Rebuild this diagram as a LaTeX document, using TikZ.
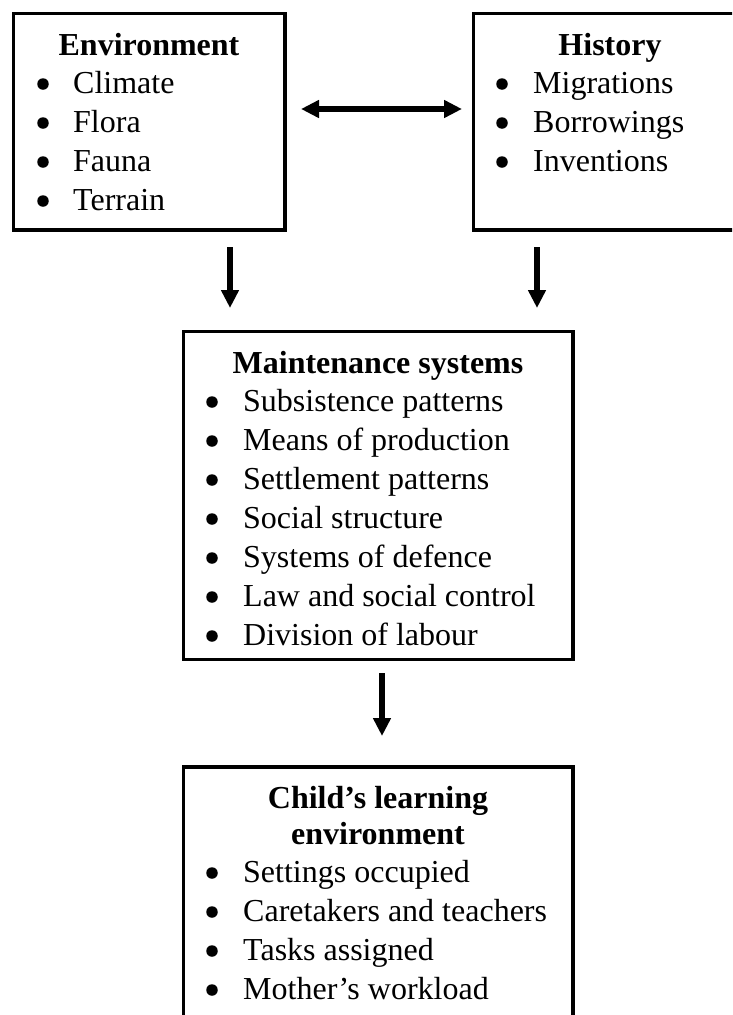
\documentclass[tikz,border=0pt]{standalone}
\usepackage{fontspec}
\setmainfont{Liberation Serif}
\usetikzlibrary{arrows.meta}
\begin{document}
\begin{tikzpicture}[x=1pt,y=-1pt,
  box/.style={draw, line width=3.3pt, rectangle, inner sep=0pt, outer sep=0pt, anchor=north west},
  item/.style={anchor=base west, inner sep=0pt, font=\fontsize{32}{39}\selectfont},
  head/.style={anchor=base, inner sep=0pt, font=\fontsize{32}{39}\selectfont\bfseries},
  dot/.style={fill, circle, inner sep=0pt, minimum size=11.5pt},
  arr/.style={line width=5.8pt, -{Triangle[length=18pt,width=17pt]}},
  darr/.style={line width=5.8pt, {Triangle[length=18pt,width=17pt]}-{Triangle[length=18pt,width=17pt]}}]
\clip (0,0) rectangle (732,1015);
% boxes
\node[box, minimum width=271.3pt, minimum height=216.3pt] (env) at (13.7,13.7) {};
\node[box, minimum width=274pt, minimum height=216.3pt] (his) at (473.7,13.7) {};
\node[box, minimum width=389.3pt, minimum height=327.8pt] (mnt) at (183.7,331.7) {};
\node[box, minimum width=389.3pt, minimum height=300pt] (chl) at (183.7,767) {};
% Environment
\node[head] (envh) at (149,55) {Environment};
\foreach \t [count=\i] in {Climate,Flora,Fauna,Terrain} {
  \node[item] (envi\i) at (73,54+39*\i) {\t};
  \node[dot] (envb\i) at (43,45+39*\i) {};
}
% History
\node[head] (hish) at (610,55) {History};
\foreach \t [count=\i] in {Migrations,Borrowings,Inventions} {
  \node[item] (hisi\i) at (533,54+39*\i) {\t};
  \node[dot] (hisb\i) at (502,45+39*\i) {};
}
% Maintenance systems
\node[head] (mnth) at (378,373) {Maintenance systems};
\foreach \t [count=\i] in {Subsistence patterns,Means of production,Settlement patterns,Social structure,Systems of defence,Law and social control,Division of labour} {
  \node[item] (mnti\i) at (243,372+39*\i) {\t};
  \node[dot] (mntb\i) at (212,363+39*\i) {};
}
% Child's learning environment
\node[head] (chlh1) at (378,808) {Child’s learning};
\node[head] (chlh2) at (378,844) {environment};
\foreach \t [count=\i] in {Settings occupied,Caretakers and teachers,Tasks assigned,Mother’s workload} {
  \node[item] (chli\i) at (243,843+39*\i) {\t};
  \node[dot] (chlb\i) at (212,834+39*\i) {};
}
% connectors
\coordinate (d1s) at (301,109);
\coordinate (d1e) at (462,109);
\coordinate (a1s) at (230,247);
\coordinate (a1e) at (230,308);
\coordinate (a2s) at (537,247);
\coordinate (a2e) at (537,308);
\coordinate (a3s) at (382,673);
\coordinate (a3e) at (382,736);
\draw[darr] (d1s) -- (d1e);
\draw[arr] (a1s) -- (a1e);
\draw[arr] (a2s) -- (a2e);
\draw[arr] (a3s) -- (a3e);
\end{tikzpicture}
\end{document}
